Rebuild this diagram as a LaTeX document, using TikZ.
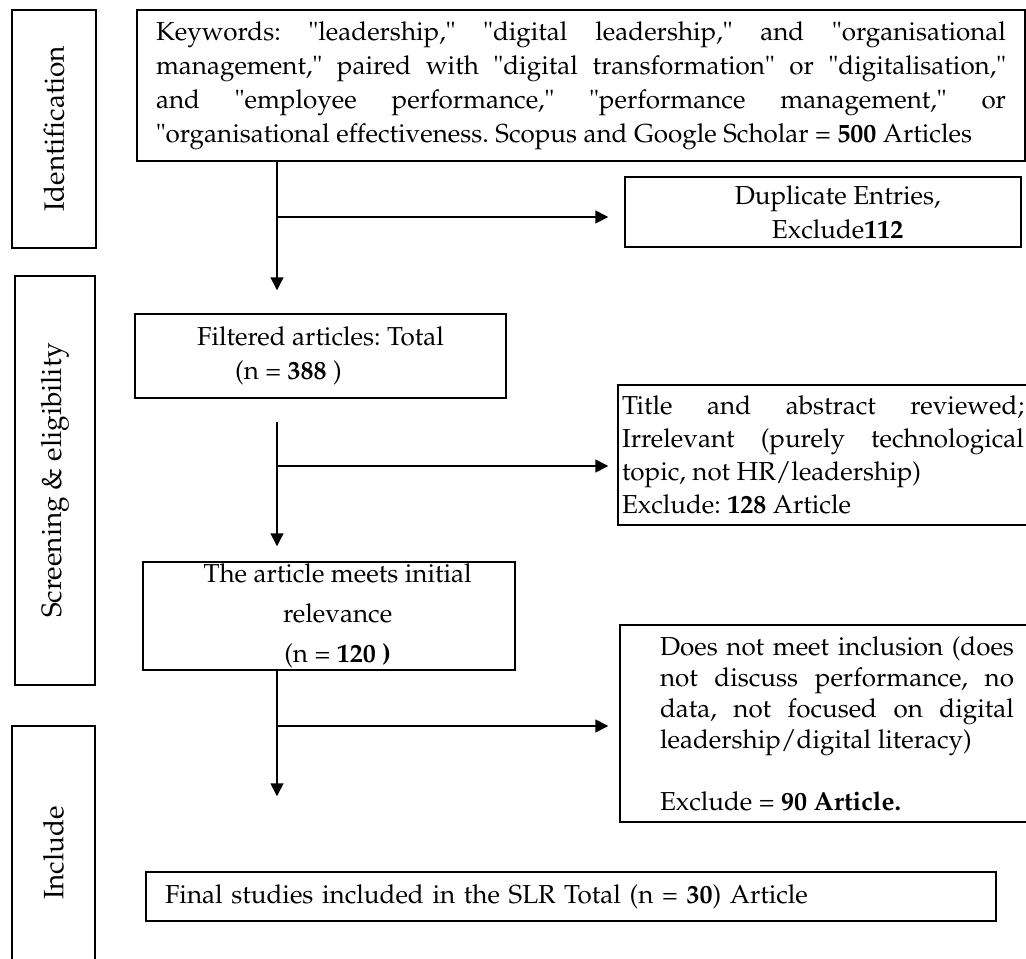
\documentclass[tikz,border=0pt]{standalone}
\usepackage[T1]{fontenc}
\usepackage{mathpazo}
\usepackage{tikz}
\usetikzlibrary{arrows.meta}
\hyphenpenalty=10000
\exhyphenpenalty=10000
\tolerance=9999
\frenchspacing

\begin{document}
\begin{tikzpicture}[x=0.75pt,y=0.75pt,yscale=-1,xscale=1,
    box/.style={draw, line width=1.1pt, inner sep=0pt, font=\fontsize{19.5}{25.5}\selectfont},
    stage/.style={draw, line width=1.1pt, rotate=90, inner sep=0pt, font=\fontsize{21}{25}\selectfont},
    flow/.style={line width=1.2pt, -{Triangle[length=9.75pt, width=9.75pt]}}]

            \useasboundingbox (0,0) rectangle (1026,959);

            % Stages
            \node [stage, minimum width=178.5pt, minimum height=63pt] (ident) at (54,129) {Identification};
            \node [stage, minimum width=306.75pt, minimum height=60pt] (screen) at (55,480.5) {Screening \& eligibility};
            \node [stage, minimum width=190.5pt, minimum height=62.25pt] (incl) at (53.5,853) {Include};

            % Boxes
            \node [box, minimum width=666pt, minimum height=113.25pt, text width=637.5pt, align=justify] (keys) at (581,85.5)
                {Keywords: "leadership," "digital leadership," and "organisational\linebreak
                 management," paired with "digital transformation" or "digitalisation,"\linebreak
                 and "employee performance," "performance management," or\linebreak
                 "organisational effectiveness. Scopus and Google Scholar = \textbf{500} Articles};
            \node [box, minimum width=297pt, minimum height=52.5pt, align=center] (dup) at (823,212)
                {\hspace*{22pt}Duplicate Entries,\\ \hspace*{22pt}Exclude\textbf{112}};
            \node [box, minimum width=278.25pt, minimum height=63pt, align=center] (filt) at (320.5,356)
                {Filtered articles: Total\\ (n = \textbf{388} )\hspace*{48pt}};
            \node [box, minimum width=307.5pt, minimum height=105pt, text width=301.5pt, align=justify,
                   font=\fontsize{19.5}{24.75}\selectfont] (title) at (823,455)
                {Title and abstract reviewed;\linebreak
                 Irrelevant (purely technological\linebreak
                 topic, not HR/leadership)\\
                 Exclude: \textbf{128} Article};
            \node [box, minimum width=279pt, minimum height=81pt, align=center,
                   font=\fontsize{19.5}{30}\selectfont] (rel) at (329,616)
                {\hspace*{13pt}The article meets initial\\ \hspace*{13pt}relevance\\ \hspace*{13pt}(n = \textbf{120 )}};
            \node [box, minimum width=325.5pt, minimum height=147.75pt, text width=265.5pt, align=justify,
                   font=\fontsize{19.5}{23.25}\selectfont] (excl) at (837,723.5)
                {Does not meet inclusion (does\linebreak
                 not discuss performance, no\linebreak
                 data, not focused on digital\linebreak
                 leadership/digital literacy)\\[\baselineskip]
                 Exclude = \textbf{90 Article.}};
            \node [box, minimum width=637.5pt, minimum height=36.75pt, text width=609pt, align=left] (final) at (571,896.5)
                {Final studies included in the SLR Total (n = \textbf{30}) Article};

            % Arrows
            \coordinate (sp) at (277,0);
            \coordinate (br1) at (277,217);
            \coordinate (br2) at (277,466);
            \coordinate (br3) at (277,726);
            \draw [flow, shorten >=17.25pt] (keys.south -| sp) -- (filt.north -| sp);
            \draw [flow, shorten >=12pt] (br1) -- (br1 -| dup.west);
            \draw [flow, shorten <=17.25pt, shorten >=11.25pt] (filt.south -| sp) -- (rel.north -| sp);
            \draw [flow, shorten >=6.75pt] (br2) -- (br2 -| title.west);
            \draw [flow, shorten >=56.25pt] (rel.south -| sp) -- (final.north -| sp);
            \draw [flow, shorten >=8.25pt] (br3) -- (br3 -| excl.west);

\end{tikzpicture}
\end{document}
